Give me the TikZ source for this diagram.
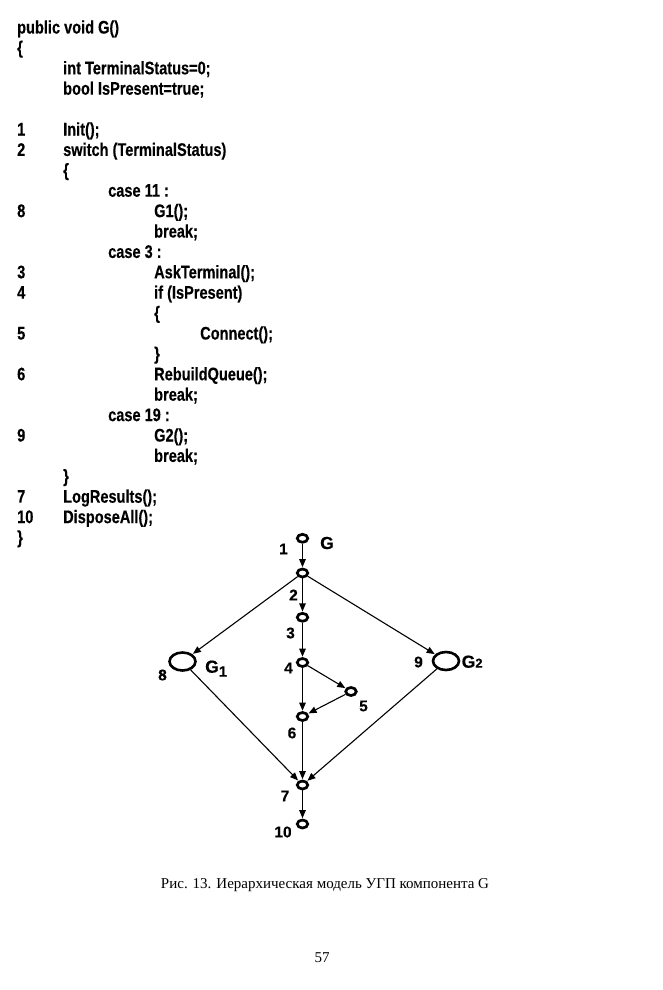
\documentclass[tikz,border=0pt]{standalone}
\usepackage{fontspec}
\setmainfont{Liberation Serif}
\newfontfamily\codefont[FakeStretch=0.80,FakeBold=0.3]{Liberation Sans}
\newfontfamily\graphfont[FakeBold=0.25]{Liberation Sans}
\usetikzlibrary{arrows.meta,shapes.geometric}
\tikzset{
  code/.style={anchor=base west,inner sep=0pt,font=\codefont\bfseries\fontsize{18.2}{20}\selectfont},
  vsmall/.style={ellipse,draw,line width=2.7pt,minimum width=10.5pt,minimum height=8pt,inner sep=0pt},
  vbig/.style={ellipse,draw,line width=2.6pt,minimum width=26pt,minimum height=18pt,inner sep=0pt},
  lbl/.style={inner sep=0pt,font=\graphfont\bfseries\fontsize{15.5}{17}\selectfont},
  edge/.style={line width=1.1pt,-{Triangle[length=8pt,width=6.5pt]},shorten >=0.5pt},
  captext/.style={inner sep=0pt,font=\fontsize{15}{18}\selectfont}
}
\newcommand\cy[1]{33.5+20.4*#1}
\begin{document}
\begin{tikzpicture}[x=1pt,y=-1pt]
\useasboundingbox[fill=white] (0,0) rectangle (662,990);
% code lines
\node[code] (c0) at (17,{\cy{0}}) {public void G()};
\node[code] (c1) at (17,{\cy{1}}) {\{};
\node[code] (c2) at (63,{\cy{2}}) {int TerminalStatus=0;};
\node[code] (c3) at (63,{\cy{3}}) {bool IsPresent=true;};
\node[code] (n5) at (17,{\cy{5}}) {1};
\node[code] (c5) at (63,{\cy{5}}) {Init();};
\node[code] (n6) at (17,{\cy{6}}) {2};
\node[code] (c6) at (63,{\cy{6}}) {switch (TerminalStatus)};
\node[code] (c7) at (63,{\cy{7}}) {\{};
\node[code] (c8) at (108,{\cy{8}}) {case 11 :};
\node[code] (n9) at (17,{\cy{9}}) {8};
\node[code] (c9) at (154,{\cy{9}}) {G1();};
\node[code] (c10) at (154,{\cy{10}}) {break;};
\node[code] (c11) at (108,{\cy{11}}) {case 3 :};
\node[code] (n12) at (17,{\cy{12}}) {3};
\node[code] (c12) at (154,{\cy{12}}) {AskTerminal();};
\node[code] (n13) at (17,{\cy{13}}) {4};
\node[code] (c13) at (154,{\cy{13}}) {if (IsPresent)};
\node[code] (c14) at (154,{\cy{14}}) {\{};
\node[code] (n15) at (17,{\cy{15}}) {5};
\node[code] (c15) at (200,{\cy{15}}) {Connect();};
\node[code] (c16) at (154,{\cy{16}}) {\}};
\node[code] (n17) at (17,{\cy{17}}) {6};
\node[code] (c17) at (154,{\cy{17}}) {RebuildQueue();};
\node[code] (c18) at (154,{\cy{18}}) {break;};
\node[code] (c19) at (108,{\cy{19}}) {case 19 :};
\node[code] (n20) at (17,{\cy{20}}) {9};
\node[code] (c20) at (154,{\cy{20}}) {G2();};
\node[code] (c21) at (154,{\cy{21}}) {break;};
\node[code] (c22) at (63,{\cy{22}}) {\}};
\node[code] (n23) at (17,{\cy{23}}) {7};
\node[code] (c23) at (63,{\cy{23}}) {LogResults();};
\node[code] (n24) at (17,{\cy{24}}) {10};
\node[code] (c24) at (63,{\cy{24}}) {DisposeAll();};
\node[code] (c25) at (17,{\cy{25}}) {\}};
% graph vertices
\node[vsmall] (v1) at (302.5,538.3) {};
\node[vsmall] (v2) at (302.5,573) {};
\node[vsmall] (v3) at (302.5,617.3) {};
\node[vsmall] (v4) at (302.5,662.5) {};
\node[vsmall] (v5) at (351,691.5) {};
\node[vsmall] (v6) at (302.5,716.5) {};
\node[vsmall] (v7) at (302.5,785) {};
\node[vsmall] (v10) at (302.5,824) {};
\node[vbig] (v8) at (182.5,661.5) {};
\node[vbig] (v9) at (446,661) {};
% edges
\draw[edge] (v1) -- (v2);
\draw[edge] (v2) -- (v3);
\draw[edge] (v3) -- (v4);
\draw[edge] (v2) -- (v8);
\draw[edge] (v2) -- (v9);
\draw[edge] (v4) -- (v5);
\draw[edge] (v4) -- (v6);
\draw[edge] (v5) -- (v6);
\draw[edge] (v8) -- (v7);
\draw[edge] (v6) -- (v7);
\draw[edge] (v9) -- (v7);
\draw[edge] (v7) -- (v10);
% labels
\node[lbl] (l1) at (283.5,549) {1};
\node[lbl] (l2) at (293.5,595) {2};
\node[lbl] (l3) at (290.5,633) {3};
\node[lbl] (l4) at (288.5,668) {4};
\node[lbl] (l5) at (363.5,706) {5};
\node[lbl] (l6) at (292,733) {6};
\node[lbl] (l7) at (285,796) {7};
\node[lbl] (l10) at (283,832) {10};
\node[lbl] (l8) at (162.5,675) {8};
\node[lbl] (l9) at (418.5,662) {9};
\node[lbl,font=\graphfont\bfseries\fontsize{17.5}{18}\selectfont] (lG) at (327,543) {G};
\node[lbl,anchor=base west,font=\graphfont\bfseries\fontsize{17.5}{18}\selectfont] (lG1) at (205,672.7) {G\raisebox{-4pt}{\fontsize{15}{16}\selectfont 1}};
\node[lbl,anchor=base west,font=\graphfont\bfseries\fontsize{17.5}{18}\selectfont] (lG2) at (461.5,667.7) {G{\fontsize{13}{14}\selectfont 2}};
% caption
\node[captext] (capt) at (325,885) {Рис. 13. Иерархическая модель УГП компонента G};
\node[captext] (page) at (322,958) {57};
\end{tikzpicture}
\end{document}
